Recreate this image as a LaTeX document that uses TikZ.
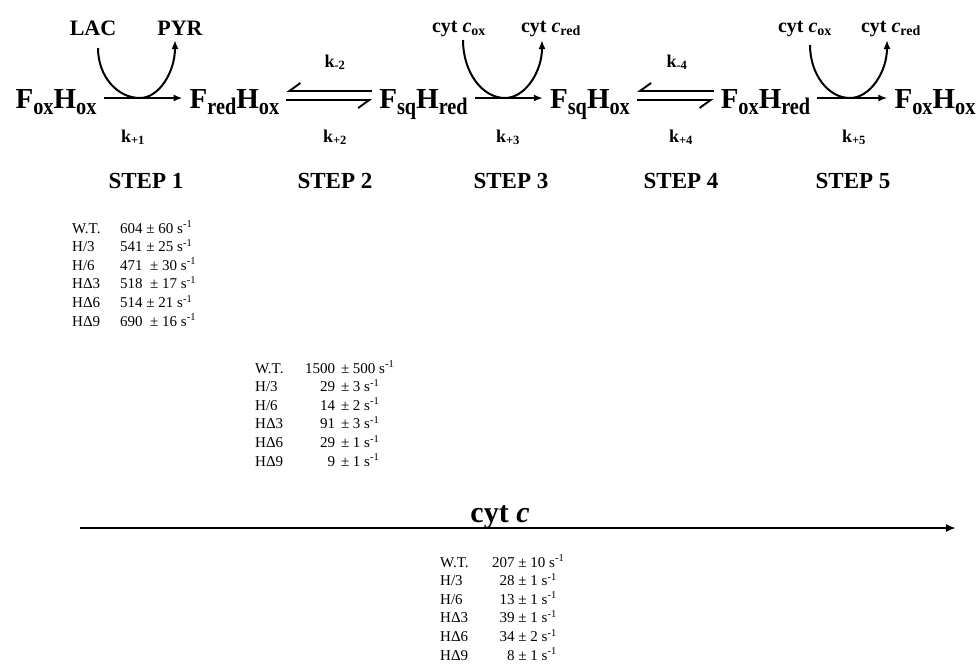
\documentclass[tikz,border=0pt]{standalone}
\usepackage{fontspec}
\setmainfont{Liberation Serif}
\usetikzlibrary{arrows.meta}

% lowered, slightly tall subscript of the species names
\newcommand{\dsub}[1]{\raisebox{-0.24em}{\scalebox{0.7}[0.82]{#1}}}

\begin{document}
\begin{tikzpicture}[
  x=1pt, y=1pt,
  spec/.style={font=\fontsize{29}{32}\selectfont\bfseries, inner xsep=7pt, inner ysep=0pt, anchor=base},
  mol/.style={font=\fontsize{20}{22}\selectfont\bfseries, inner sep=0pt, anchor=base},
  rate/.style={font=\fontsize{18}{20}\selectfont\bfseries, inner sep=0pt, anchor=base},
  stp/.style={font=\fontsize{23}{25}\selectfont\bfseries, inner sep=0pt, anchor=base},
  data/.style={font=\fontsize{15}{18.6}\selectfont, inner sep=0pt, anchor=base west},
  rxn/.style={-{Latex[length=9pt,width=7pt]}, line width=2pt},
  cyc/.style={-{Latex[length=9pt,width=7pt]}, line width=2pt},
  equi/.style={-{Straight Barb[right,length=11pt,width=16pt]}, line width=1.9pt},
]
  \useasboundingbox (0,0) rectangle (977,-667);

  % heights of the reaction arrows
  \coordinate (mid) at (0,-98);
  \coordinate (up)  at (0,-91);
  \coordinate (lo)  at (0,-100);

  % species
  \node[spec] (s1) at (56,-108)    {F\dsub{ox}H\dsub{ox}};
  \node[spec] (s2) at (234.5,-108) {F\dsub{red}H\dsub{ox}};
  \node[spec] (s3) at (423.5,-108) {F\dsub{sq}H\dsub{red}};
  \node[spec] (s4) at (590,-108)   {F\dsub{sq}H\dsub{ox}};
  \node[spec] (s5) at (765.5,-108) {F\dsub{ox}H\dsub{red}};
  \node[spec] (s6) at (935,-108)   {F\dsub{ox}H\dsub{ox}};

  % co-substrates
  \node[mol, font=\fontsize{22}{24}\selectfont\bfseries] (lac) at (93,-35)  {LAC};
  \node[mol, font=\fontsize{22}{24}\selectfont\bfseries] (pyr) at (180,-35) {PYR};
  \node[mol] (cox3)  at (459,-32) {cyt \textit{c}\textsubscript{ox}};
  \node[mol] (cred3) at (551,-32) {cyt \textit{c}\textsubscript{red}};
  \node[mol] (cox5)  at (805,-32) {cyt \textit{c}\textsubscript{ox}};
  \node[mol] (cred5) at (891,-32) {cyt \textit{c}\textsubscript{red}};

  \coordinate (b1) at (140,-98);
  \coordinate (b3) at (505,-98);
  \coordinate (b5) at (850,-98);

  % steps 1, 3, 5
  \draw[rxn] (s1.east |- mid) -- (s2.west |- mid);
  \draw[cyc] ([shift={(5pt,-13pt)}]lac.base) .. controls +(0,-28) and +(-23,0) .. (b1)
    .. controls +(19,0) and +(0,-32) .. ([shift={(-5pt,-5pt)}]pyr.base);
  \draw[rxn] (s3.east |- mid) -- (s4.west |- mid);
  \draw[cyc] ([shift={(4pt,-8pt)}]cox3.base) .. controls +(0,-32) and +(-23,0) .. (b3)
    .. controls +(20,0) and +(0,-32) .. ([shift={(-9pt,-8pt)}]cred3.base);
  \draw[rxn] (s5.east |- mid) -- (s6.west |- mid);
  \draw[cyc] ([shift={(5pt,-13pt)}]cox5.base) .. controls +(0,-29) and +(-22,0) .. (b5)
    .. controls +(20,0) and +(0,-32) .. ([shift={(-4pt,-8pt)}]cred5.base);

  % steps 2 and 4
  \draw[equi] (s3.west |- up) -- (s2.east |- up);
  \draw[equi] (s2.east |- lo) -- (s3.west |- lo);
  \draw[equi] (s5.west |- up) -- (s4.east |- up);
  \draw[equi] (s4.east |- lo) -- (s5.west |- lo);

  % rate constants
  \node[rate] (k1)  at (133,-142) {k\textsubscript{+1}};
  \node[rate] (km2) at (335,-67)  {k\textsubscript{-2}};
  \node[rate] (k2)  at (335,-142) {k\textsubscript{+2}};
  \node[rate] (k3)  at (508,-142) {k\textsubscript{+3}};
  \node[rate] (km4) at (677,-67)  {k\textsubscript{-4}};
  \node[rate] (k4)  at (681,-142) {k\textsubscript{+4}};
  \node[rate] (k5)  at (854,-142) {k\textsubscript{+5}};

  \node[stp] (st1) at (146,-188) {STEP 1};
  \node[stp] (st2) at (335,-188) {STEP 2};
  \node[stp] (st3) at (511,-188) {STEP 3};
  \node[stp] (st4) at (681,-188) {STEP 4};
  \node[stp] (st5) at (853,-188) {STEP 5};

  % measured rates
  \node[data] (tab1) at (72,-233) {\begin{tabular}[t]{@{}p{48pt}@{}l@{}}
    W.T. & 604 ± 60 s\textsuperscript{-1}\\
    H/3  & 541 ± 25 s\textsuperscript{-1}\\
    H/6  & 471 \ ± 30 s\textsuperscript{-1}\\
    HΔ3  & 518 \ ± 17 s\textsuperscript{-1}\\
    HΔ6  & 514 ± 21 s\textsuperscript{-1}\\
    HΔ9  & 690 \ ± 16 s\textsuperscript{-1}
  \end{tabular}};
  \node[data] (tab2) at (255,-373) {\begin{tabular}[t]{@{}p{50pt}@{}r@{\hspace{6pt}±\hspace{3.5pt}}l@{}}
    W.T. & 1500 & 500 s\textsuperscript{-1}\\
    H/3  & 29 & 3 s\textsuperscript{-1}\\
    H/6  & 14 & 2 s\textsuperscript{-1}\\
    HΔ3  & 91 & 3 s\textsuperscript{-1}\\
    HΔ6  & 29 & 1 s\textsuperscript{-1}\\
    HΔ9  & 9 & 1 s\textsuperscript{-1}
  \end{tabular}};

  % overall reaction with cyt c
  \coordinate (cl) at (80,-528);
  \coordinate (cr) at (956,-528);
  \draw[line width=2.6pt, -{Latex[length=10pt,width=8pt]}] (cl) -- (cr);
  \node[anchor=base, inner sep=0pt, font=\fontsize{30}{32}\selectfont\bfseries] (cytc) at (500,-522) {cyt \textit{c}};

  \node[data] (tab3) at (440,-567) {\begin{tabular}[t]{@{}p{52pt}@{}r@{ ± }l@{}}
    W.T. & 207 & 10 s\textsuperscript{-1}\\
    H/3  & 28 & 1 s\textsuperscript{-1}\\
    H/6  & 13 & 1 s\textsuperscript{-1}\\
    HΔ3  & 39 & 1 s\textsuperscript{-1}\\
    HΔ6  & 34 & 2 s\textsuperscript{-1}\\
    HΔ9  & 8 & 1 s\textsuperscript{-1}
  \end{tabular}};
\end{tikzpicture}
\end{document}
